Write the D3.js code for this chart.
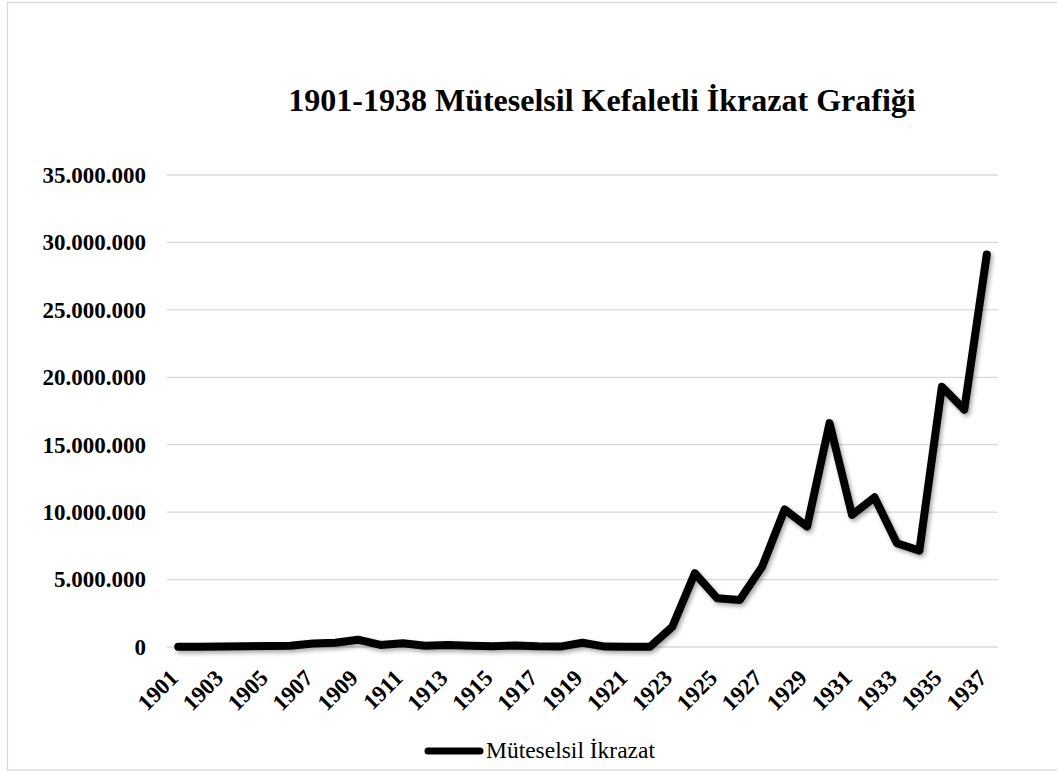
<!DOCTYPE html>
<meta charset="utf-8">
<style>
  body { margin: 0; background: #fff; }
  .grid line { stroke: #d9d9d9; stroke-width: 1.3px; }
  .tick-label { font-family: "Liberation Serif", "DejaVu Serif", serif; font-weight: bold; font-size: 23px; fill: #000; }
  .title { font-family: "Liberation Serif", "DejaVu Serif", serif; font-weight: bold; font-size: 32px; fill: #000; }
  .legend text { font-family: "Liberation Serif", "DejaVu Serif", serif; font-size: 23.5px; fill: #000; }
</style>
<body>
<script src="https://cdnjs.cloudflare.com/ajax/libs/d3/7.8.5/d3.min.js"></script>
<script>
// years on the category axis
const years = ["1901","1902","1903","1904","1905","1906","1907","1908","1909","1910",
               "1911","1912","1913","1914","1915","1916","1917","1918","1919","1920",
               "1921","1922","1923","1924","1925","1926","1927","1928","1929","1930",
               "1931","1932","1933","1934","1935","1936","1937"];

// Müteselsil İkrazat
const ikrazat = [20000, 20000, 30000, 50000, 80000, 100000, 260000, 310000, 540000, 150000,
                 280000, 100000, 150000, 100000, 50000, 120000, 50000, 30000, 320000, 30000,
                 20000, 10000, 1500000, 5470000, 3610000, 3490000, 5960000, 10200000, 8930000, 16600000,
                 9800000, 11100000, 7690000, 7150000, 19300000, 17600000, 29100000];

const yTicks = [0, 5000000, 10000000, 15000000, 20000000, 25000000, 30000000, 35000000];
const titleText = "1901-1938 Müteselsil Kefaletli İkrazat Grafiği";
const seriesName = "Müteselsil İkrazat";

const width = 1057, height = 771;
const plot = {left: 167, right: 998, top: 175, bottom: 647};

const locale = d3.formatLocale({decimal: ",", thousands: ".", grouping: [3], currency: ["", ""]});
const fmt = locale.format(",d");

const svg = d3.select("body").append("svg")
  .attr("width", width)
  .attr("height", height);

const defs = svg.append("defs");
const shadow = defs.append("filter").attr("id", "shadow")
  .attr("x", "-10%").attr("y", "-10%").attr("width", "120%").attr("height", "120%");
shadow.append("feDropShadow")
  .attr("dx", 2).attr("dy", 2.5).attr("stdDeviation", 2)
  .attr("flood-color", "#000").attr("flood-opacity", 0.35);

// chart area border
svg.append("rect")
  .attr("x", 7.5).attr("y", 2.5)
  .attr("width", 1100).attr("height", 767.5)
  .attr("fill", "none").attr("stroke", "#d9d9d9").attr("stroke-width", 1.3);

const x = d3.scaleBand().domain(years).range([plot.left, plot.right]);
const y = d3.scaleLinear().domain([0, 35000000]).range([plot.bottom, plot.top]);

// gridlines
svg.append("g").attr("class", "grid")
  .selectAll("line")
  .data(yTicks)
  .enter().append("line")
    .attr("x1", plot.left).attr("x2", plot.right)
    .attr("y1", d => y(d)).attr("y2", d => y(d));

// y axis labels
svg.append("g")
  .selectAll("text")
  .data(yTicks)
  .enter().append("text")
    .attr("class", "tick-label")
    .attr("x", 146)
    .attr("y", d => y(d))
    .attr("dy", "0.34em")
    .attr("text-anchor", "end")
    .text(d => fmt(d));

// x axis labels, every second year
svg.append("g")
  .selectAll("text")
  .data(years.filter((d, i) => i % 2 === 0))
  .enter().append("text")
    .attr("class", "tick-label")
    .attr("text-anchor", "end")
    .attr("transform", d => "translate(" + (x(d) + x.bandwidth() / 2 - 10) + "," + 668 + ") rotate(-45)")
    .attr("dy", "0.7em")
    .text(d => d);

// the series line
const line = d3.line()
  .x((d, i) => x(years[i]) + x.bandwidth() / 2)
  .y(d => y(d));

svg.append("path")
  .datum(ikrazat)
  .attr("d", line)
  .attr("fill", "none")
  .attr("stroke", "#000")
  .attr("stroke-width", 8)
  .attr("stroke-linejoin", "round")
  .attr("stroke-linecap", "round")
  .attr("filter", "url(#shadow)");

// title
svg.append("text")
  .attr("class", "title")
  .attr("x", 602)
  .attr("y", 111)
  .attr("text-anchor", "middle")
  .text(titleText);

// legend
const legend = svg.append("g").attr("class", "legend");
legend.append("line")
  .attr("x1", 428).attr("x2", 480)
  .attr("y1", 751).attr("y2", 751)
  .attr("stroke", "#000").attr("stroke-width", 7)
  .attr("stroke-linecap", "round");
legend.append("text")
  .attr("x", 486).attr("y", 758)
  .text(seriesName);
</script>
</body>
